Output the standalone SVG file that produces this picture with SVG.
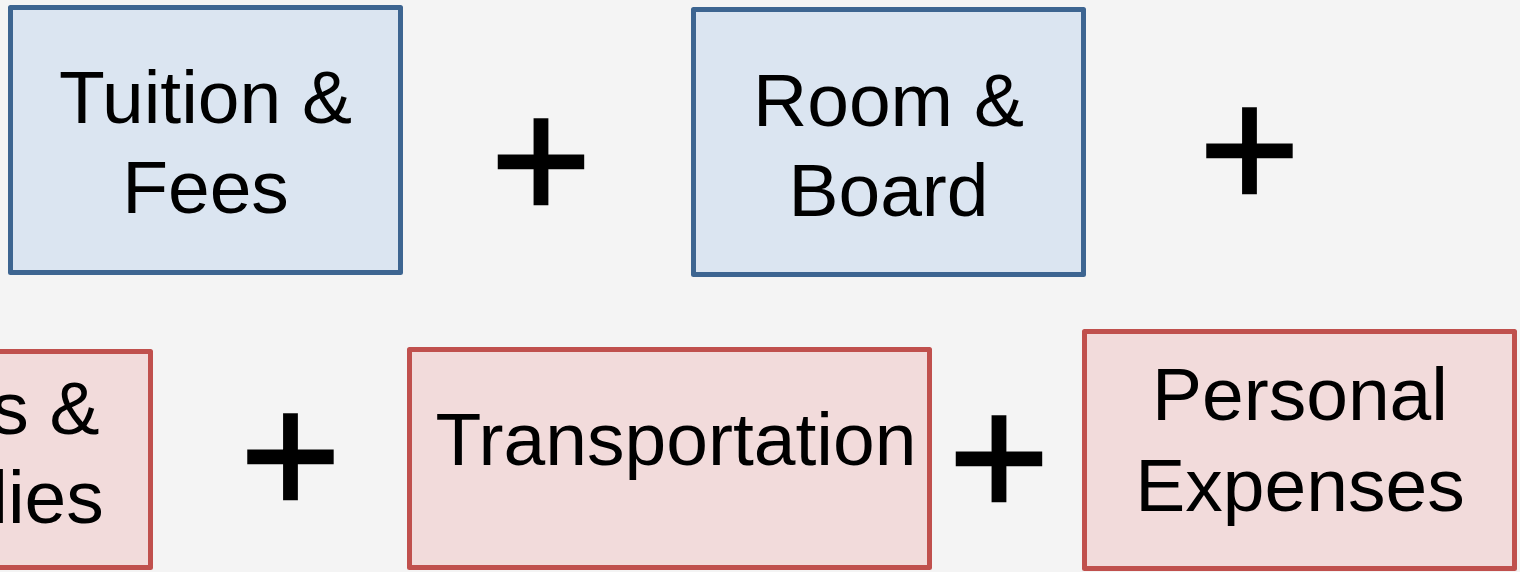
<svg xmlns="http://www.w3.org/2000/svg" width="1520" height="572" viewBox="0 0 1520 572">
  <style>
    .box { stroke-width: 5; stroke-linejoin: round; }
    .blue { fill: #dbe5f1; stroke: #3d6591; }
    .red { fill: #f2dbdb; stroke: #c0504d; }
    .label { font-family: "Liberation Sans", Arial, sans-serif; font-size: 75px; fill: #000; text-anchor: middle; }
    .label.end { text-anchor: end; }
    .op { font-family: "Liberation Sans", Arial, sans-serif; font-size: 173px; fill: #000; stroke: #000; stroke-width: 2.4; text-anchor: middle; }
  </style>
  <rect width="1520" height="572" fill="#f4f4f4"/>

  <g id="tuition">
    <rect class="box blue" x="10.5" y="7.5" width="390" height="265"/>
    <text class="label" x="205.5" y="123">Tuition &amp;</text>
    <text class="label" x="205.5" y="213">Fees</text>
  </g>

  <g id="room">
    <rect class="box blue" x="693.5" y="9.5" width="390" height="265"/>
    <text class="label" x="888.5" y="126">Room &amp;</text>
    <text class="label" x="888.5" y="216">Board</text>
  </g>

  <g id="books">
    <rect class="box red" x="-239.5" y="351.5" width="390" height="216"/>
    <text class="label end" x="99.6" y="434">s &amp;</text>
    <text class="label end" x="103.8" y="523">lies</text>
  </g>

  <g id="transportation">
    <rect class="box red" x="409.5" y="349.5" width="520" height="218"/>
    <text class="label" x="676" y="465">Transportation</text>
  </g>

  <g id="personal">
    <rect class="box red" x="1084.5" y="331.5" width="430" height="237"/>
    <text class="label" x="1300" y="420">Personal</text>
    <text class="label" x="1300" y="511">Expenses</text>
  </g>

  <!-- plus operators between the cost items -->
  <g id="operators">
    <text class="op" x="541" y="219">+</text>
    <text class="op" x="1249.5" y="208">+</text>
    <text class="op" x="290.5" y="514">+</text>
    <text class="op" x="999" y="516">+</text>
  </g>
</svg>
